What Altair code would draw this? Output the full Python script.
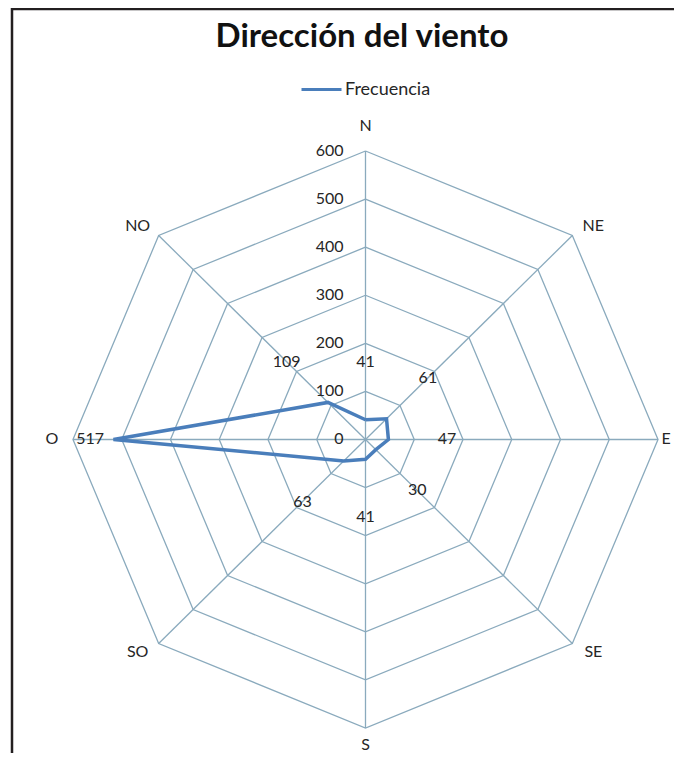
import altair as alt
import pandas as pd
import numpy as np

# ---- data ----
directions = ["N", "NE", "E", "SE", "S", "SO", "O", "NO"]
values = [41, 61, 47, 30, 41, 63, 517, 109]
grid_levels = [100, 200, 300, 400, 500, 600]
tick_labels = [0, 100, 200, 300, 400, 500, 600]
title_text = "Dirección del viento"
series_name = "Frecuencia"

# ---- layout ----
W, H = 666, 745
XD = [-733.3, 632.8]
YD = [-652.0, 897.4]
KX = W / (XD[1] - XD[0])   # px per unit
KY = H / (YD[1] - YD[0])
RMAX = 600
DATA_LABEL_OFF = 120
DATA_LABEL_CAP = 565
TICK_X = -45

GRID_COLOR = "#8aaabd"
LINE_COLOR = "#4a7ebb"
TEXT_COLOR = "#262626"
FONT = "Lato"

ang = np.deg2rad(np.arange(len(directions)) * 45.0)
sin, cos = np.sin(ang), np.cos(ang)
n = len(directions)

series_df = pd.DataFrame({
    "x": [values[i % n] * sin[i % n] for i in range(n + 1)],
    "y": [values[i % n] * cos[i % n] for i in range(n + 1)],
    "ord": list(range(n + 1)),
    "serie": [series_name] * (n + 1),
})

grid_rows = []
for lv in grid_levels:
    for i in range(n + 1):
        grid_rows.append({"x": lv * sin[i % n], "y": lv * cos[i % n], "ord": i, "level": lv})
grid_df = pd.DataFrame(grid_rows)

spoke_df = pd.DataFrame({"x": [0.0] * n, "y": [0.0] * n,
                         "x2": RMAX * sin, "y2": RMAX * cos})

# direction labels: offset outward from the outer vertex
xsgn = np.sign(np.round(sin, 3))
ysgn = np.sign(np.round(cos, 3))
xoff_px = 21 * xsgn
yoff_px = np.where(np.abs(cos) > 0.99, 25, 9) * ysgn
dir_x = RMAX * sin + xoff_px / KX
dir_y = RMAX * cos + yoff_px / KY
dir_x = np.clip(dir_x, XD[0] + 10 / KX, XD[1] - 8 / KX)
dir_y = np.clip(dir_y, YD[0] + 8 / KY, YD[1] - 8 / KY)
dir_df = pd.DataFrame({"x": dir_x, "y": dir_y, "t": directions})

tick_df = pd.DataFrame({"x": [TICK_X] * len(tick_labels), "y": tick_labels,
                        "t": [str(t) for t in tick_labels]})

lab_r = [min(v + DATA_LABEL_OFF, DATA_LABEL_CAP) for v in values]
dl_df = pd.DataFrame({"x": np.array(lab_r) * sin, "y": np.array(lab_r) * cos,
                      "t": [str(v) for v in values]})

xs = alt.Scale(domain=XD, nice=False, zero=False)
ys = alt.Scale(domain=YD, nice=False, zero=False)
X = alt.X("x:Q", scale=xs, axis=None)
Y = alt.Y("y:Q", scale=ys, axis=None)

grid = alt.Chart(grid_df).mark_line(color=GRID_COLOR, strokeWidth=1.3).encode(
    x=X, y=Y, detail="level:N", order="ord:Q")

spokes = alt.Chart(spoke_df).mark_rule(color=GRID_COLOR, strokeWidth=1.3).encode(
    x=X, y=Y, x2="x2:Q", y2="y2:Q")

line = alt.Chart(series_df).mark_line(strokeWidth=3.5, strokeJoin="miter").encode(
    x=X, y=Y, order="ord:Q",
    color=alt.Color("serie:N",
                    scale=alt.Scale(domain=[series_name], range=[LINE_COLOR]),
                    legend=alt.Legend(title=None, orient="none", legendX=292, legendY=60,
                                      symbolType="stroke", symbolSize=1600,
                                      symbolStrokeWidth=3, labelFont=FONT,
                                      labelFontSize=18, labelColor=TEXT_COLOR,
                                      labelOffset=2)))

dir_text = alt.Chart(dir_df).mark_text(font=FONT, fontSize=16, color=TEXT_COLOR,
                                       align="center", baseline="middle").encode(
    x=X, y=Y, text="t:N")

tick_text = alt.Chart(tick_df).mark_text(font=FONT, fontSize=16, color=TEXT_COLOR,
                                         align="right", baseline="middle").encode(
    x=X, y=Y, text="t:N")

dl_text = alt.Chart(dl_df).mark_text(font=FONT, fontSize=16, color=TEXT_COLOR,
                                     align="center", baseline="middle").encode(
    x=X, y=Y, text="t:N")

one = pd.DataFrame({"a": [0]})
title = alt.Chart(one).mark_text(text=title_text, font=FONT, fontSize=33, fontWeight="bold",
                                 color="#111111", align="center",
                                 baseline="alphabetic").encode(
    x=alt.value(354), y=alt.value(39))

border_left = alt.Chart(one).mark_rule(color="#231f20", strokeWidth=2.5).encode(
    x=alt.value(4), y=alt.value(0), y2=alt.value(H))
border_top = alt.Chart(one).mark_rule(color="#231f20", strokeWidth=2.5).encode(
    x=alt.value(3), x2=alt.value(W), y=alt.value(1))

chart = alt.layer(grid, spokes, line, dir_text, tick_text, dl_text, title,
                  border_left, border_top).properties(
    width=W, height=H, autosize=alt.AutoSizeParams(type="none"), padding=0
).configure_view(stroke=None)

chart.save("out.html", embed_options={"renderer": "svg", "actions": False})
